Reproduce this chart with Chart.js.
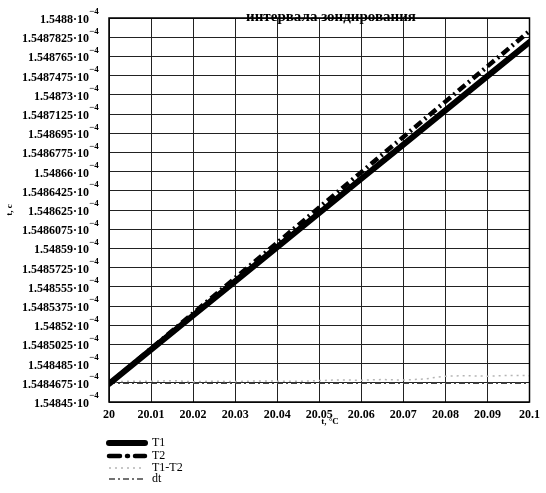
<!DOCTYPE html>
<html>
<head>
<meta charset="utf-8">
<script src="https://cdn.jsdelivr.net/npm/chart.js@4.4.1/dist/chart.umd.min.js"></script>
<style>
  body { margin: 0; background: #fff; }
  #wrap { width: 546px; height: 493px; position: relative; }
</style>
</head>
<body>
<div id="wrap"><canvas id="chart"></canvas></div>
<script>
// temperature, °C
const tempC = [20, 20.01, 20.02, 20.03, 20.04, 20.05, 20.06, 20.07, 20.08, 20.09, 20.1];
// time, units of 10^-4 s
const t1 = [1.5484665, 1.5484977, 1.5485288, 1.54856, 1.5485912, 1.5486223, 1.5486535, 1.5486846, 1.5487158, 1.548747, 1.5487781];
const t2 = [1.5484665, 1.5484987, 1.5485308, 1.548563, 1.5485951, 1.5486273, 1.5486595, 1.5486916, 1.5487238, 1.5487559, 1.5487881];
const dtVal = [1.5484672, 1.5484672, 1.5484672, 1.5484672, 1.5484672, 1.5484672, 1.5484672, 1.5484672, 1.5484672, 1.5484672, 1.5484672];
const diffX = [20, 20.005, 20.01, 20.015, 20.02, 20.025, 20.03, 20.035, 20.04, 20.045, 20.05, 20.055, 20.06, 20.065, 20.07, 20.075, 20.08, 20.085, 20.09, 20.095, 20.1];
const diffT1T2 = [1.5484682, 1.548469, 1.5484688, 1.5484695, 1.5484685, 1.548469, 1.5484686, 1.5484692, 1.548469, 1.5484688, 1.5484695, 1.5484702, 1.5484698, 1.5484705, 1.54847, 1.548471, 1.5484735, 1.548474, 1.5484735, 1.5484742, 1.548474];

const xTickLabels = ['20', '20.01', '20.02', '20.03', '20.04', '20.05', '20.06', '20.07', '20.08', '20.09', '20.1'];
const yTickLabels = ['1.54845', '1.5484675', '1.548485', '1.5485025', '1.54852', '1.5485375', '1.548555', '1.5485725',
  '1.54859', '1.5486075', '1.548625', '1.5486425', '1.54866', '1.5486775', '1.548695', '1.5487125',
  '1.54873', '1.5487475', '1.548765', '1.5487825', '1.5488'];
const seriesNames = ['T1', 'T2', 'T1-T2', 'dt'];

const serif = '"Liberation Serif", "DejaVu Serif", serif';

function pts(xs, ys) {
  return xs.map((x, i) => ({ x: x, y: ys[i] }));
}

// frame, y labels with exponent, titles, legend
const decorPlugin = {
  id: 'decor',
  afterDraw(chart) {
    const ctx = chart.ctx;
    const area = chart.chartArea;
    const ys = chart.scales.y;
    ctx.save();
    ctx.strokeStyle = '#000';
    ctx.lineWidth = 1.5;
    ctx.strokeRect(area.left, area.top, area.right - area.left, area.bottom - area.top);

    ctx.fillStyle = '#000';
    yTickLabels.forEach(lbl => {
      const py = ys.getPixelForValue(parseFloat(lbl)) + 2;
      ctx.font = 'bold 12px ' + serif;
      ctx.textAlign = 'right';
      ctx.textBaseline = 'middle';
      ctx.fillText(lbl + '\u00b710', 89, py);
      ctx.font = 'bold 9px ' + serif;
      ctx.textAlign = 'left';
      ctx.fillText('\u2212' + '4', 89, py - 8);
    });

    // title (partly cut by the frame)
    ctx.font = 'bold 15px ' + serif;
    ctx.textAlign = 'center';
    ctx.textBaseline = 'alphabetic';
    ctx.fillText('интервала зондирования', 331, 21);

    // axis titles
    ctx.font = 'bold 9px ' + serif;
    ctx.fillText('t, \u00b0C', 330, 424);
    ctx.save();
    ctx.translate(12, 210);
    ctx.rotate(-Math.PI / 2);
    ctx.fillText('t, c', 0, 0);
    ctx.restore();

    // legend
    const rows = [443, 456, 468, 479];
    chart.data.datasets.forEach((ds, i) => {
      const y = rows[i];
      ctx.save();
      ctx.strokeStyle = ds.borderColor;
      ctx.lineWidth = ds.borderWidth;
      ctx.lineCap = i < 2 ? 'round' : 'butt';
      ctx.setLineDash(ds.legendDash || ds.borderDash || []);
      ctx.beginPath();
      ctx.moveTo(109, y);
      ctx.lineTo(145, y);
      ctx.stroke();
      ctx.restore();
      ctx.font = '12px ' + serif;
      ctx.textAlign = 'left';
      ctx.textBaseline = 'middle';
      ctx.fillStyle = '#000';
      ctx.fillText(seriesNames[i], 152, y);
    });
    ctx.restore();
  }
};

new Chart(document.getElementById('chart'), {
  type: 'line',
  data: {
    datasets: [
      { label: seriesNames[0], data: pts(tempC, t1), borderColor: '#000', borderWidth: 6, pointRadius: 0, borderCapStyle: 'round' },
      { label: seriesNames[1], data: pts(tempC, t2), borderColor: '#000', borderWidth: 4.5, pointRadius: 0,
        borderDash: [9, 4, 2, 4], legendDash: [11, 7, 1, 7] },
      { label: seriesNames[2], data: pts(diffX, diffT1T2), borderColor: '#b5b5b5', borderWidth: 1.5, pointRadius: 0,
        borderDash: [2, 4] },
      { label: seriesNames[3], data: pts(tempC, dtVal), borderColor: '#444', borderWidth: 1.5, pointRadius: 0,
        borderDash: [6, 3, 2, 3] }
    ]
  },
  options: {
    responsive: true,
    maintainAspectRatio: false,
    animation: false,
    layout: { padding: { left: 109, right: 15, top: 18, bottom: 71 } },
    plugins: { legend: { display: false }, tooltip: { enabled: false } },
    scales: {
      x: {
        type: 'linear',
        min: 20,
        max: 20.1,
        afterBuildTicks: s => { s.ticks = xTickLabels.map(v => ({ value: parseFloat(v) })); },
        afterFit: s => { s.height = 20; },
        ticks: {
          autoSkip: false,
          maxRotation: 0,
          padding: 6,
          color: '#000',
          font: { family: serif, size: 12, weight: 'bold' },
          callback: (v, i) => xTickLabels[i]
        },
        grid: { color: '#222', lineWidth: 1, drawTicks: false },
        border: { display: false }
      },
      y: {
        type: 'linear',
        min: 1.54845,
        max: 1.5488,
        afterBuildTicks: s => { s.ticks = yTickLabels.map(v => ({ value: parseFloat(v) })); },
        afterFit: s => { s.width = 0; },
        ticks: { display: false },
        grid: { color: '#222', lineWidth: 1, drawTicks: false },
        border: { display: false }
      }
    }
  },
  plugins: [decorPlugin]
});
</script>
</body>
</html>
